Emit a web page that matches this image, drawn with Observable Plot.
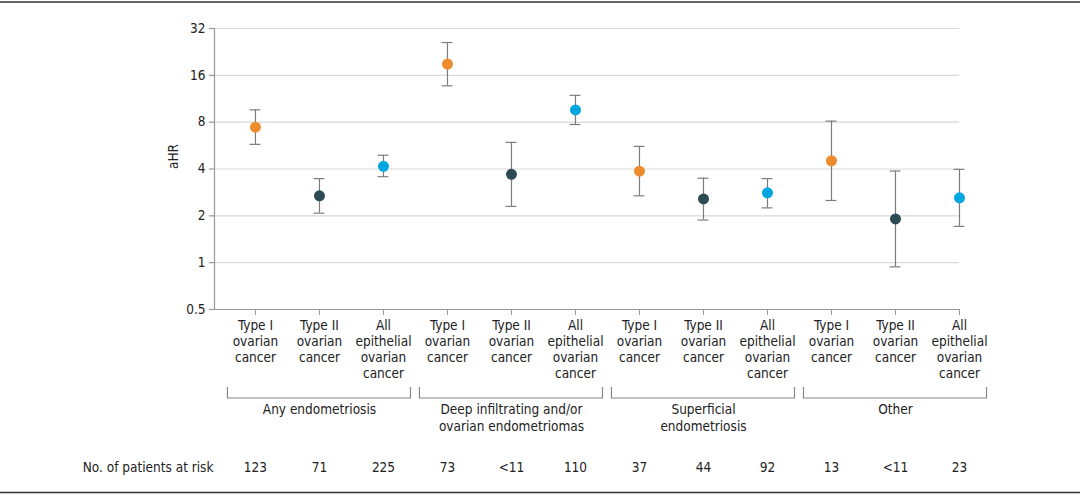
<!DOCTYPE html>
<html>
<head>
<meta charset="utf-8">
<script src="https://cdn.jsdelivr.net/npm/d3@7"></script>
<script src="https://cdn.jsdelivr.net/npm/@observablehq/plot@0.6"></script>
<style>
  html, body { margin: 0; padding: 0; background: #fff; }
  #chart svg { font-family: "DejaVu Sans", sans-serif; font-stretch: condensed; }
</style>
</head>
<body>
<div id="chart"></div>
<script>
// ---- data ----
const categories = [
  "Type I\novarian\ncancer", "Type II\novarian\ncancer", "All\nepithelial\novarian\ncancer",
  "Type I\novarian\ncancer", "Type II\novarian\ncancer", "All\nepithelial\novarian\ncancer",
  "Type I\novarian\ncancer", "Type II\novarian\ncancer", "All\nepithelial\novarian\ncancer",
  "Type I\novarian\ncancer", "Type II\novarian\ncancer", "All\nepithelial\novarian\ncancer"
];
const cancerType = ["Type I", "Type II", "All", "Type I", "Type II", "All", "Type I", "Type II", "All", "Type I", "Type II", "All"];
const groups = ["Any endometriosis", "Deep infiltrating and/or\novarian endometriomas", "Superficial\nendometriosis", "Other"];
const ahr   = [7.43, 2.69, 4.16, 18.9, 3.70, 9.59, 3.87, 2.57, 2.81, 4.52, 1.91, 2.61];
const lower = [5.76, 2.08, 3.57, 13.7, 2.30, 7.73, 2.69, 1.88, 2.25, 2.51, 0.94, 1.71];
const upper = [9.60, 3.47, 4.90, 26.0, 5.93, 11.9, 5.59, 3.49, 3.47, 8.12, 3.88, 3.98];
const atRisk = ["123", "71", "225", "73", "<11", "110", "37", "44", "92", "13", "<11", "23"];
const yTicks = [0.5, 1, 2, 4, 8, 16, 32];
const typeColors = {"Type I": "#EE8B2F", "Type II": "#2D4B54", "All": "#00A6E0"};

const rows = ahr.map((v, i) => ({i, v, lo: lower[i], hi: upper[i], type: cancerType[i]}));
const groupRows = groups.map((g, k) => ({label: g, center: k * 3 + 1}));
const xMin = -0.64;
const capHalf = 0.085;
const bracketHalf = 1.43;
const yTickLen = 0.08;
const textColor = "#222";
const fs = 13.5;

const brackets = (index, scales, values, dims) => {
  const g = d3.create("svg:g");
  const y0 = dims.height - dims.marginBottom;
  for (const r of groupRows) {
    const x1 = scales.x(r.center - bracketHalf), x2 = scales.x(r.center + bracketHalf);
    g.append("path")
      .attr("d", `M${x1},${y0 + 78}V${y0 + 89}H${x2}V${y0 + 78}`)
      .attr("fill", "none").attr("stroke", "#888").attr("stroke-width", 1.2);
  }
  g.append("line").attr("x1", 0).attr("x2", dims.width).attr("y1", 2).attr("y2", 2)
    .attr("stroke", "#333").attr("stroke-width", 1.5);
  g.append("line").attr("x1", 0).attr("x2", dims.width).attr("y1", dims.height - 2.5).attr("y2", dims.height - 2.5)
    .attr("stroke", "#333").attr("stroke-width", 1.5);
  return g.node();
};

const chart = Plot.plot({
  width: 1080,
  height: 495,
  marginTop: 28,
  marginBottom: 186,
  marginLeft: 214,
  marginRight: 121,
  style: {fontSize: fs + "px", color: textColor},
  x: {type: "linear", domain: [xMin, 11], axis: null},
  y: {type: "log", domain: [0.5, 32], axis: null},
  marks: [
    Plot.gridY(yTicks.filter(d => d > 0.5), {stroke: "#d9d9d9", strokeOpacity: 1, strokeWidth: 1.2}),
    Plot.ruleX([xMin], {stroke: "#999", strokeWidth: 1.2}),
    Plot.ruleY([0.5], {stroke: "#999", strokeWidth: 1.2}),
    Plot.ruleY(yTicks, {y: d => d, x1: xMin - yTickLen, x2: xMin, stroke: "#999", strokeWidth: 1.2}),
    Plot.text(yTicks, {y: d => d, x: xMin, text: d => String(d), textAnchor: "end", dx: -9, fontSize: fs, fill: textColor}),
    Plot.axisX(d3.range(12), {tickSize: 6, tickPadding: 3, tickFormat: i => categories[i], label: null, stroke: "#999", fontSize: fs, lineHeight: 1.19, fill: textColor}),
    Plot.text(["aHR"], {frameAnchor: "left", rotate: -90, dx: -41, fontSize: fs, fill: textColor}),
    Plot.ruleX(rows, {x: "i", y1: "lo", y2: "hi", stroke: "#7d7d7d", strokeWidth: 1.2}),
    Plot.ruleY(rows, {y: "lo", x1: d => d.i - capHalf, x2: d => d.i + capHalf, stroke: "#7d7d7d", strokeWidth: 1.2}),
    Plot.ruleY(rows, {y: "hi", x1: d => d.i - capHalf, x2: d => d.i + capHalf, stroke: "#7d7d7d", strokeWidth: 1.2}),
    Plot.dot(rows, {x: "i", y: "v", r: 5.5, fill: d => typeColors[d.type], stroke: "none"}),
    Plot.text(groupRows, {x: "center", frameAnchor: "bottom", text: "label", lineAnchor: "top", dy: 93, lineHeight: 1.25, fontSize: fs, fill: textColor}),
    Plot.text(atRisk, {x: (d, i) => i, frameAnchor: "bottom", text: d => d, lineAnchor: "middle", dy: 158, fontSize: fs, fill: textColor}),
    Plot.text(["No. of patients at risk"], {x: xMin, frameAnchor: "bottom", textAnchor: "end", lineAnchor: "middle", dy: 158, dx: -1, fontSize: fs, fill: textColor}),
    brackets
  ]
});
document.getElementById("chart").append(chart);
</script>
</body>
</html>
